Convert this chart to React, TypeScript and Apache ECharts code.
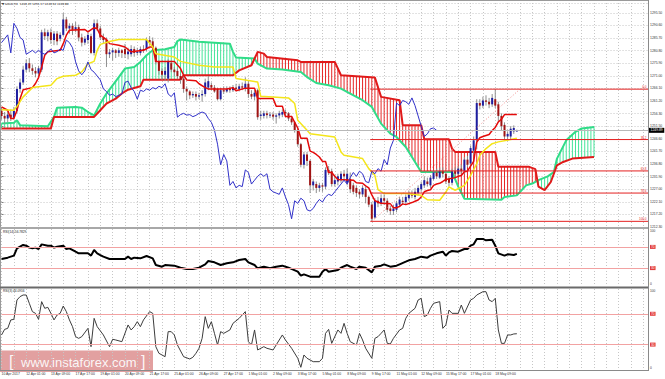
import React, { useEffect, useRef } from 'react';
import * as echarts from 'echarts';

// ---------- DATA ----------
const symbolName = 'GOLD,H4';
const dateLabels = ['10 Apr 2017', '12 Apr 01:00', '13 Apr 09:00', '17 Apr 17:00', '19 Apr 01:00', '20 Apr 09:00', '21 Apr 17:00', '25 Apr 01:00', '26 Apr 09:00', '27 Apr 17:00', '1 May 01:00', '2 May 09:00', '3 May 17:00', '5 May 01:00', '8 May 09:00', '9 May 17:00', '11 May 01:00', '12 May 09:00', '15 May 17:00', '17 May 01:00', '18 May 09:00'];
const priceTickLabels = ['1212.30', '1217.20', '1222.10', '1227.00', '1231.90', '1236.80', '1241.70', '1246.60', '1251.50', '1256.30', '1261.20', '1266.10', '1271.00', '1275.90', '1280.80', '1285.70', '1290.60', '1295.50'];

const opens = [
  1257.5, 1255.5, 1254.5, 1256.0, 1254.8, 1257.5, 1266.0, 1268.5, 1273.5, 1276.0,
  1274.0, 1273.0, 1272.0, 1273.5, 1288.0, 1286.5, 1288.0, 1285.0, 1287.5, 1285.5,
  1287.0, 1293.0, 1289.5, 1290.5, 1289.0, 1290.0, 1286.0, 1284.0, 1285.0, 1286.5,
  1280.0, 1291.5, 1289.5, 1286.0, 1285.0, 1279.5, 1280.2, 1281.0, 1280.0, 1281.0,
  1281.5, 1279.5, 1279.5, 1281.5, 1280.0, 1280.0, 1281.5, 1281.5, 1285.0, 1284.5,
  1282.0, 1276.5, 1273.0, 1271.5, 1270.0, 1276.0, 1273.5, 1273.0, 1271.0, 1270.0,
  1266.0, 1265.0, 1263.5, 1264.0, 1263.0, 1263.5, 1264.0, 1266.5, 1267.5, 1266.5,
  1266.0, 1262.0, 1265.5, 1265.0, 1266.0, 1265.5, 1266.5, 1266.0, 1267.0, 1266.0,
  1268.0, 1264.0, 1263.0, 1265.5, 1255.5, 1255.5, 1256.5, 1255.8, 1256.0, 1255.2,
  1255.7, 1256.0, 1257.0, 1256.5, 1254.5, 1253.0, 1250.0, 1244.5, 1236.5, 1240.5,
  1238.0, 1228.5, 1229.0, 1227.5, 1228.5, 1228.0, 1234.5, 1234.0, 1229.0, 1230.0,
  1230.5, 1233.0, 1229.5, 1231.0, 1228.5, 1227.5, 1226.0, 1225.0, 1227.0, 1224.0,
  1221.0, 1216.0, 1222.5, 1221.5, 1223.5, 1222.5, 1219.5, 1218.5, 1219.0, 1221.0,
  1222.5, 1222.0, 1223.5, 1225.0, 1224.0, 1225.5, 1227.0, 1228.5, 1230.0, 1228.5,
  1231.0, 1233.5, 1231.5, 1234.0, 1233.0, 1231.0, 1229.5, 1234.0, 1233.0, 1235.0,
  1234.0, 1238.5, 1237.0, 1242.0, 1246.0, 1260.5, 1259.5, 1261.5, 1261.0, 1260.0,
  1262.0, 1260.0, 1255.5, 1252.0, 1247.5, 1247.5, 1249.5, 1249.45,
];
const closes = [
  1255.5, 1254.5, 1256.0, 1254.8, 1257.5, 1266.0, 1268.5, 1273.5, 1276.0, 1274.0,
  1273.0, 1272.0, 1274.0, 1288.0, 1286.5, 1288.0, 1285.0, 1287.5, 1284.5, 1287.0,
  1293.0, 1289.5, 1290.5, 1289.0, 1290.0, 1286.0, 1284.0, 1285.5, 1287.0, 1280.0,
  1291.5, 1289.5, 1286.0, 1285.0, 1279.5, 1280.2, 1281.0, 1280.0, 1281.0, 1280.0,
  1279.5, 1280.5, 1281.5, 1280.0, 1280.5, 1281.5, 1281.0, 1285.0, 1284.0, 1282.0,
  1276.5, 1273.0, 1271.5, 1273.0, 1276.5, 1273.5, 1272.5, 1271.0, 1269.5, 1266.0,
  1265.0, 1263.5, 1264.0, 1263.0, 1263.5, 1264.0, 1268.5, 1269.0, 1266.5, 1265.0,
  1262.0, 1265.5, 1265.0, 1266.0, 1265.5, 1266.5, 1266.0, 1267.0, 1266.5, 1268.0,
  1264.0, 1263.0, 1264.5, 1255.0, 1256.0, 1256.5, 1255.8, 1256.0, 1255.2, 1255.7,
  1256.5, 1257.0, 1256.5, 1254.5, 1253.0, 1250.0, 1244.5, 1236.5, 1240.5, 1238.0,
  1228.5, 1230.0, 1227.5, 1228.5, 1228.0, 1234.5, 1233.5, 1229.0, 1230.5, 1232.0,
  1233.0, 1232.0, 1233.0, 1227.0, 1226.0, 1225.5, 1225.0, 1227.5, 1224.0, 1221.0,
  1215.5, 1222.5, 1221.5, 1223.5, 1222.5, 1219.0, 1218.5, 1219.5, 1221.5, 1223.0,
  1222.0, 1224.0, 1225.0, 1224.5, 1226.0, 1227.5, 1229.0, 1230.5, 1229.0, 1231.5,
  1233.5, 1232.0, 1234.0, 1233.0, 1230.0, 1229.5, 1234.0, 1233.0, 1235.0, 1234.0,
  1238.5, 1236.5, 1243.0, 1246.0, 1260.5, 1259.5, 1261.5, 1261.0, 1260.0, 1262.5,
  1259.5, 1255.5, 1251.5, 1247.5, 1248.5, 1250.5, 1250.8, 1249.89,
];
const highs = [
  1259.0, 1257.0, 1257.5, 1258.0, 1259.0, 1267.0, 1270.0, 1275.0, 1277.5, 1278.0,
  1275.5, 1274.5, 1275.0, 1289.0, 1289.5, 1289.0, 1289.5, 1288.5, 1288.5, 1288.0,
  1295.5, 1294.0, 1291.5, 1291.5, 1292.0, 1291.0, 1287.5, 1286.5, 1288.0, 1287.5,
  1293.0, 1293.0, 1290.5, 1287.5, 1286.0, 1281.5, 1282.0, 1281.5, 1282.0, 1281.5,
  1283.5, 1282.0, 1283.0, 1282.5, 1282.0, 1282.5, 1283.0, 1286.0, 1286.5, 1286.0,
  1282.5, 1277.0, 1274.0, 1274.5, 1277.5, 1277.0, 1274.5, 1274.0, 1272.0, 1271.0,
  1267.0, 1265.5, 1265.0, 1265.0, 1264.5, 1265.5, 1270.0, 1271.0, 1268.5, 1267.5,
  1266.5, 1266.5, 1267.0, 1267.0, 1267.0, 1267.5, 1268.0, 1268.0, 1268.5, 1270.5,
  1269.0, 1265.5, 1265.5, 1266.0, 1257.5, 1257.5, 1257.5, 1257.0, 1257.0, 1256.5,
  1257.5, 1258.0, 1258.0, 1257.0, 1255.5, 1253.5, 1250.5, 1245.0, 1241.5, 1241.5,
  1238.5, 1231.0, 1230.0, 1229.5, 1229.5, 1235.5, 1236.0, 1235.0, 1232.5, 1233.0,
  1234.0, 1234.5, 1235.0, 1233.5, 1229.5, 1228.5, 1227.0, 1228.5, 1228.0, 1224.5,
  1222.0, 1223.5, 1224.0, 1225.0, 1225.0, 1223.5, 1220.5, 1221.0, 1222.5, 1224.0,
  1224.0, 1225.0, 1226.5, 1226.5, 1227.5, 1228.5, 1230.0, 1232.0, 1231.5, 1232.5,
  1234.5, 1235.0, 1235.5, 1235.5, 1234.0, 1232.0, 1235.0, 1235.5, 1236.0, 1236.5,
  1239.5, 1240.0, 1244.0, 1247.5, 1262.0, 1262.0, 1263.0, 1263.5, 1262.5, 1264.0,
  1265.9, 1261.0, 1256.5, 1253.0, 1249.5, 1251.5, 1251.8, 1250.17,
];
const lows = [
  1254.0, 1252.5, 1253.0, 1253.5, 1254.0, 1256.5, 1264.5, 1267.5, 1272.5, 1272.5,
  1271.5, 1270.5, 1271.0, 1272.5, 1285.0, 1284.5, 1283.5, 1283.0, 1283.0, 1284.5,
  1286.5, 1288.5, 1287.5, 1287.0, 1288.0, 1284.5, 1282.5, 1283.0, 1283.5, 1279.5,
  1279.0, 1288.5, 1285.0, 1283.5, 1274.5, 1278.0, 1277.0, 1278.0, 1278.5, 1278.0,
  1278.0, 1277.5, 1278.5, 1278.5, 1279.0, 1279.0, 1280.0, 1280.5, 1283.0, 1281.0,
  1275.5, 1271.5, 1269.5, 1269.0, 1268.5, 1272.5, 1271.0, 1270.0, 1268.0, 1264.5,
  1261.5, 1262.0, 1262.5, 1261.5, 1262.0, 1261.0, 1263.0, 1265.5, 1265.5, 1264.5,
  1261.5, 1261.5, 1264.0, 1264.5, 1264.5, 1264.8, 1265.0, 1265.0, 1265.5, 1265.0,
  1262.5, 1262.0, 1261.5, 1254.0, 1254.0, 1254.5, 1254.5, 1254.7, 1254.0, 1252.5,
  1254.5, 1255.0, 1255.5, 1253.5, 1252.0, 1249.0, 1243.5, 1235.5, 1235.0, 1236.0,
  1225.5, 1226.5, 1225.5, 1226.0, 1226.0, 1227.0, 1232.5, 1228.0, 1228.0, 1228.5,
  1229.5, 1230.5, 1228.5, 1225.5, 1225.0, 1224.0, 1223.5, 1224.0, 1221.5, 1220.0,
  1214.5, 1215.5, 1220.0, 1220.5, 1221.0, 1218.0, 1217.0, 1217.0, 1218.0, 1220.0,
  1221.0, 1221.0, 1222.5, 1223.5, 1223.0, 1224.5, 1226.0, 1227.5, 1228.0, 1227.5,
  1230.5, 1231.0, 1231.0, 1231.5, 1229.0, 1228.0, 1228.5, 1232.0, 1232.0, 1233.0,
  1233.0, 1235.5, 1236.0, 1240.5, 1242.5, 1258.0, 1258.5, 1259.5, 1258.5, 1259.0,
  1258.5, 1253.5, 1250.0, 1246.0, 1246.5, 1246.5, 1248.5, 1249.34,
];

// Ichimoku lines as [bar index, price] points
const tenkanPts = [[0, 1259.0], [2, 1257.7], [3, 1254.5], [4, 1254.5], [5, 1257.7], [6, 1262.2], [7, 1265.7], [10, 1266.5], [11, 1268.1], [12, 1270.4], [13, 1274.5], [14, 1279.1], [15, 1280.4], [19, 1281.0], [20, 1283.6], [21, 1286.9], [22, 1288.8], [27, 1289.1], [28, 1288.2], [30, 1289.8], [31, 1289.4], [32, 1286.9], [34, 1285.2], [35, 1283.6], [38, 1283.0], [40, 1282.3], [42, 1280.4], [46, 1281.0], [48, 1282.3], [49, 1282.3], [50, 1276.7], [56, 1276.7], [58, 1273.9], [59, 1271.3], [60, 1269.5], [63, 1269.2], [64, 1268.0], [66, 1266.5], [67, 1266.0], [73, 1266.0], [75, 1266.5], [76, 1265.3], [79, 1266.3], [82, 1266.3], [83, 1262.3], [88, 1262.3], [89, 1259.3], [91, 1259.3], [92, 1255.3], [94, 1255.3], [95, 1253.0], [96, 1250.8], [97, 1246.8], [99, 1246.8], [100, 1241.8], [101, 1241.3], [102, 1240.5], [103, 1239.5], [104, 1237.8], [105, 1237.8], [106, 1233.5], [107, 1233.5], [108, 1232.0], [109, 1230.8], [114, 1230.5], [115, 1229.5], [117, 1229.3], [118, 1228.3], [119, 1227.5], [120, 1224.8], [121, 1222.5], [122, 1222.0], [123, 1221.5], [126, 1221.3], [127, 1219.8], [128, 1219.8], [129, 1220.3], [130, 1221.3], [131, 1221.0], [133, 1221.8], [134, 1222.3], [135, 1222.8], [136, 1224.0], [137, 1226.0], [138, 1226.5], [139, 1226.8], [140, 1228.5], [141, 1229.0], [142, 1229.3], [143, 1230.0], [144, 1230.8], [147, 1231.5], [148, 1232.0], [149, 1232.3], [150, 1233.8], [151, 1234.0], [152, 1236.0], [153, 1237.8], [154, 1245.3], [155, 1247.0], [156, 1247.5], [158, 1248.3], [159, 1249.8], [160, 1251.0], [161, 1253.2], [162, 1254.2], [163, 1256.0], [167, 1256.0]];
const kijunPts = [[0, 1257.9], [4, 1257.7], [5, 1259.2], [7, 1262.9], [10, 1266.5], [16, 1267.4], [18, 1270.0], [20, 1270.9], [24, 1271.3], [26, 1272.6], [28, 1275.8], [30, 1276.7], [31, 1281.0], [32, 1283.3], [35, 1284.4], [38, 1285.2], [47, 1285.2], [49, 1282.3], [50, 1279.7], [56, 1278.4], [58, 1276.7], [64, 1275.2], [69, 1274.5], [75, 1274.5], [76, 1270.0], [83, 1268.7], [84, 1263.1], [93, 1262.5], [95, 1260.3], [96, 1253.8], [99, 1249.9], [100, 1248.6], [108, 1247.3], [110, 1241.5], [111, 1240.2], [117, 1238.9], [119, 1235.0], [121, 1232.4], [122, 1226.8], [124, 1225.3], [131, 1225.3], [136, 1224.6], [138, 1222.9], [142, 1222.7], [144, 1225.9], [145, 1227.9], [147, 1226.6], [150, 1228.5], [152, 1232.4], [154, 1236.9], [155, 1240.2], [157, 1242.8], [159, 1244.7], [161, 1245.4], [165, 1246.3], [167, 1246.8]];
const spanAPts = [[0, 1252.5], [4, 1252.8], [5, 1253.8], [6, 1251.9], [15, 1251.5], [17, 1255.1], [18, 1258.7], [24, 1259.0], [26, 1258.7], [28, 1257.0], [30, 1255.7], [32, 1260.3], [34, 1264.2], [36, 1267.4], [38, 1270.6], [40, 1273.9], [43, 1274.5], [45, 1276.5], [47, 1279.1], [49, 1281.0], [53, 1281.4], [56, 1282.3], [57, 1284.6], [58, 1285.2], [64, 1284.3], [74, 1283.6], [75, 1280.4], [76, 1278.2], [82, 1277.8], [83, 1275.8], [86, 1273.9], [91, 1273.5], [97, 1272.6], [99, 1270.6], [102, 1268.3], [106, 1267.4], [110, 1266.1], [113, 1264.2], [117, 1261.6], [120, 1259.0], [123, 1252.5], [126, 1248.6], [128, 1247.3], [131, 1243.4], [133, 1239.5], [136, 1233.7], [146, 1233.7], [148, 1228.0], [150, 1223.3], [162, 1222.9], [163, 1224.0], [167, 1224.6], [170, 1228.5], [172, 1229.2], [174, 1230.5], [177, 1232.0], [179, 1233.7], [180, 1238.9], [183, 1246.0], [186, 1249.3], [188, 1250.6], [192, 1251.2]];
const spanBPts = [[0, 1250.6], [16, 1250.6], [17, 1255.1], [30, 1255.1], [32, 1257.7], [34, 1260.3], [37, 1262.2], [39, 1264.2], [41, 1265.7], [45, 1267.0], [46, 1269.6], [58, 1269.6], [59, 1271.3], [75, 1271.3], [77, 1273.2], [81, 1275.2], [83, 1280.4], [85, 1279.7], [86, 1278.4], [96, 1277.1], [97, 1276.5], [108, 1276.5], [110, 1271.3], [121, 1270.4], [123, 1262.9], [129, 1261.6], [130, 1251.9], [136, 1251.9], [137, 1246.4], [145, 1246.4], [146, 1242.8], [147, 1241.5], [160, 1241.5], [161, 1235.7], [171, 1235.7], [173, 1234.8], [174, 1228.0], [176, 1226.6], [178, 1229.8], [180, 1236.3], [182, 1237.6], [185, 1238.9], [192, 1239.5]];
const chikouShift = 26;

const rsi14Pts = [[0, 47.2], [2, 49.7], [4, 53.5], [5, 67.3], [7, 73.6], [8, 72.3], [9, 68.6], [10, 67.3], [11, 68.6], [12, 66], [13, 74.8], [15, 72.3], [16, 72.3], [17, 68.6], [18, 70.4], [20, 72.3], [21, 66], [22, 67.3], [24, 61], [25, 57.9], [28, 57.9], [29, 53.5], [30, 64.2], [31, 57.9], [32, 54.7], [33, 51.6], [35, 47.2], [37, 47.2], [40, 47.2], [41, 51.6], [42, 47.2], [43, 49.7], [45, 48.4], [47, 52.8], [49, 48.4], [50, 35.8], [52, 32.7], [53, 35.8], [56, 34.6], [58, 30.8], [60, 28.3], [62, 28.3], [64, 30.8], [66, 37.1], [67, 43.4], [69, 40.9], [71, 35.8], [73, 39], [75, 40.9], [77, 45.3], [79, 47.2], [80, 40.9], [82, 35.8], [83, 29.6], [85, 32.7], [87, 29.6], [89, 32.7], [91, 34.6], [93, 30.8], [96, 23.3], [97, 15.7], [98, 18.2], [100, 13.8], [103, 13.8], [104, 23.3], [105, 28.3], [106, 23.3], [109, 26.4], [110, 30.8], [112, 35.8], [113, 32.7], [115, 28.3], [116, 32.7], [118, 30.8], [120, 22], [121, 32.7], [123, 34.6], [124, 37.1], [126, 32.7], [128, 34.6], [129, 37.1], [131, 42.1], [132, 44.7], [134, 47.2], [136, 51.6], [138, 49.7], [139, 53.5], [141, 57.9], [143, 61], [144, 53.5], [145, 59.7], [146, 62.3], [148, 61], [150, 66], [151, 66], [152, 72.3], [153, 74.8], [154, 85], [156, 85], [157, 82.4], [159, 83.6], [160, 72.3], [161, 57.9], [163, 53.5], [164, 56], [166, 54.7], [167, 56.7829]];
const rsi3Pts = [[0, 42.5], [1, 49.8], [2, 51.1], [3, 62], [4, 62.8], [5, 87.9], [6, 92.3], [7, 94.4], [8, 94.4], [9, 83.6], [10, 72.8], [11, 70.6], [12, 62.8], [13, 85.8], [14, 77.1], [15, 78.4], [16, 70.6], [17, 62], [18, 68.4], [19, 70.6], [20, 80.1], [21, 72.8], [22, 62], [23, 53.3], [24, 40.3], [25, 38.1], [26, 40.3], [28, 51.1], [29, 27.3], [30, 64.1], [31, 53.3], [33, 42.5], [35, 27.3], [36, 36.9], [37, 36], [39, 33.8], [41, 55.5], [42, 49], [43, 53.3], [44, 59.8], [45, 53.3], [46, 62], [48, 72.8], [49, 70.6], [50, 27.3], [51, 18.7], [53, 14.3], [54, 46.8], [55, 46.8], [56, 42.5], [57, 29.5], [59, 14.3], [61, 11.3], [62, 13.5], [63, 18.7], [64, 25.2], [65, 38.1], [66, 66.3], [67, 51.1], [68, 59.8], [69, 44.6], [70, 29.5], [71, 46.8], [72, 44.6], [74, 49], [75, 57.6], [77, 64.1], [79, 72.8], [80, 33.8], [81, 29.5], [82, 49], [83, 23], [85, 27.3], [86, 25.2], [88, 23], [89, 29.5], [91, 42.5], [92, 36], [94, 25.2], [96, 12.2], [97, 0.5], [98, 16.5], [99, 12.2], [101, 7.8], [103, 7.8], [104, 12.2], [105, 44.6], [106, 49.8], [107, 31.6], [109, 49], [110, 44.6], [111, 57.6], [112, 44.6], [113, 33.8], [115, 29.5], [116, 44.6], [117, 36], [118, 25.2], [120, 12.2], [121, 38.1], [122, 40.3], [123, 44.6], [124, 49], [125, 31.6], [126, 30.8], [127, 38.1], [129, 49], [130, 51.1], [131, 64.1], [132, 70.6], [134, 77.1], [135, 87.9], [136, 90.1], [137, 66.3], [138, 68.4], [139, 77.1], [140, 83.6], [142, 85.8], [143, 51.1], [144, 55.5], [145, 74.9], [146, 70.6], [148, 70.6], [149, 81.4], [150, 70.6], [152, 87.9], [153, 90.1], [154, 94.4], [156, 98.7], [157, 98.7], [158, 87.9], [159, 85.8], [160, 90.1], [161, 49], [162, 31.6], [163, 31.6], [164, 42.5], [165, 42.5], [166, 43.8], [167, 44.0916]];
const rsiLevels = [70, 30];

const fibLevelNames = ['0.0', '38.2', '61.8', '78.6', '100.0'];
const fibLevelPrices = [1265.9, 1246.3, 1234.1, 1225.5, 1214.5];
const fibStartIndex = 119.5;
const fibTrend = [[120, 1214.5], [168, 1265.9]];

// ---------- STYLE / LAYOUT ----------
const FONT = 'Liberation Sans, Arial, sans-serif';
const GRID_LEFT = 1.54;
const GRID_W = 646.46;
const X_MAX = 209.5;
const P_MIN = 1212.3;
const P_MAX = 1299.4;
const P_STEP = 4.9;
const CLOUD_UP = '#45e49a';
const CLOUD_DN = '#e62626';
const FIB_RED = '#e42020';
const gridLine = { show: true, lineStyle: { color: '#c6c6c6', width: 1, type: [1, 2] } };

function lineAt(pts: number[][], x: number): number | null {
  if (x < pts[0][0] || x > pts[pts.length - 1][0]) return null;
  for (let k = 1; k < pts.length; k++) {
    const [x0, y0] = pts[k - 1];
    const [x1, y1] = pts[k];
    if (x <= x1) return x1 === x0 ? y1 : y0 + ((y1 - y0) * (x - x0)) / (x1 - x0);
  }
  return null;
}

function xAxisFor(gridIndex: number, labels: boolean) {
  return {
    type: 'value', gridIndex, min: 0, max: X_MAX, interval: 4,
    axisLine: { show: false }, axisTick: { show: false },
    splitLine: gridLine,
    axisLabel: labels
      ? {
          show: true, fontSize: 3.4, color: '#333', align: 'left', margin: 2, hideOverlap: false,
          showMinLabel: true, showMaxLabel: true,
          formatter: (v: number) => (v % 8 === 0 && dateLabels[v / 8] ? dateLabels[v / 8] : ''),
        }
      : { show: false },
  };
}

function lineSeries(name: string, data: number[][], color: string, width: number, axis: number, extra: any = {}) {
  return {
    type: 'line', name, data, xAxisIndex: axis, yAxisIndex: axis, showSymbol: false, symbol: 'none',
    silent: true, lineStyle: { color, width }, itemStyle: { color }, z: 4, ...extra,
  };
}

function rsiMarkLine() {
  return {
    silent: true, symbol: ['none', 'none'],
    lineStyle: { color: '#f2a2a2', width: 1, type: 'solid' },
    label: { show: true, position: 'end', formatter: '{c}', color: '#fff', backgroundColor: '#e23c3c', fontSize: 3.2, padding: [0.5, 1], distance: 2 },
    data: rsiLevels.map((v) => ({ yAxis: v })),
  };
}

function buildOption() {
  const last = closes.length - 1;
  const candleData = opens.map((o, i) => [i, o, closes[i], lows[i], highs[i]]);
  const cloudEnd = spanAPts[spanAPts.length - 1][0];
  const cloudBars: number[][] = [];
  for (let i = 0; i <= cloudEnd; i++) cloudBars.push([i, lineAt(spanAPts, i) as number]);
  const chikou = closes.slice(chikouShift).map((c, j) => [j, c]);

  const fibSeries = fibLevelPrices.map((p, k) =>
    lineSeries('Fib ' + fibLevelNames[k], [[fibStartIndex, p], [X_MAX, p]], FIB_RED, 1, 0, {
      z: 5,
      endLabel: {
        show: true, formatter: fibLevelNames[k], color: FIB_RED, fontSize: 3, align: 'right', verticalAlign: 'bottom',
        distance: 0, offset: [-1.5, -0.8],
      },
    })
  );

  return {
    animation: false,
    backgroundColor: '#ffffff',
    textStyle: { fontFamily: FONT },
    grid: [
      { left: GRID_LEFT, top: 3, width: GRID_W, height: 224, outerBoundsMode: 'none' },
      { left: GRID_LEFT, top: 229, width: GRID_W, height: 57, outerBoundsMode: 'none' },
      { left: GRID_LEFT, top: 289, width: GRID_W, height: 81, outerBoundsMode: 'none' },
    ],
    xAxis: [xAxisFor(0, false), xAxisFor(1, false), xAxisFor(2, true)],
    yAxis: [
      {
        type: 'value', gridIndex: 0, position: 'right', min: P_MIN, max: P_MAX, interval: P_STEP,
        axisLine: { show: false }, axisTick: { show: true, length: 2, lineStyle: { color: '#808080' } },
        splitLine: gridLine,
        axisLabel: {
          fontSize: 3.4, color: '#333', margin: 2, showMinLabel: true, showMaxLabel: true,
          formatter: (v: number) => {
            const k = Math.round((v - P_MIN) / P_STEP);
            return Math.abs(v - (P_MIN + k * P_STEP)) < 0.01 && priceTickLabels[k] ? priceTickLabels[k] : '';
          },
        },
      },
      {
        type: 'value', gridIndex: 1, position: 'right', min: -3.77, max: 103.77, splitNumber: 5,
        axisLine: { show: false }, axisTick: { show: false }, splitLine: { show: false },
        axisLabel: { fontSize: 3.2, color: '#333', margin: 2, formatter: (v: number) => (v === 0 ? '0' : v === 100 ? '100' : '') },
      },
      {
        type: 'value', gridIndex: 2, position: 'right', min: -3, max: 102.2, splitNumber: 5,
        axisLine: { show: false }, axisTick: { show: false }, splitLine: { show: false },
        axisLabel: { fontSize: 3.2, color: '#333', margin: 2, formatter: (v: number) => (v === 0 ? '0' : v === 100 ? '100' : '') },
      },
    ],
    series: [
      {
        type: 'custom', name: 'cloud', xAxisIndex: 0, yAxisIndex: 0, silent: true, z: 1,
        data: cloudBars,
        renderItem: (params: any, api: any) => {
          const i = api.value(0);
          const a = lineAt(spanAPts, i);
          const b = lineAt(spanBPts, i);
          if (a == null || b == null) return { type: 'group', children: [] };
          const pa = api.coord([i, a]);
          const pb = api.coord([i, b]);
          return {
            type: 'line',
            shape: { x1: pa[0], y1: pa[1], x2: pb[0], y2: pb[1] },
            style: { stroke: a >= b ? CLOUD_UP : CLOUD_DN, lineWidth: 1 },
          };
        },
      },
      lineSeries('Senkou A', spanAPts, '#30dc88', 2, 0, { z: 2 }),
      lineSeries('Senkou B', spanBPts, '#e01a1a', 2, 0, { z: 2 }),
      {
        type: 'custom', name: 'price', xAxisIndex: 0, yAxisIndex: 0, silent: true, z: 3,
        encode: { x: 0, y: [1, 2, 3, 4] },
        data: candleData,
        renderItem: (params: any, api: any) => {
          const i = api.value(0);
          const o = api.value(1), c = api.value(2), l = api.value(3), h = api.value(4);
          const pO = api.coord([i, o]);
          const pC = api.coord([i, c]);
          const pL = api.coord([i, l]);
          const pH = api.coord([i, h]);
          const x = pO[0];
          const top = Math.min(pO[1], pC[1]);
          const bh = Math.max(1, Math.abs(pO[1] - pC[1]));
          return {
            type: 'group',
            children: [
              { type: 'line', shape: { x1: x, y1: pH[1], x2: x, y2: pL[1] }, style: { stroke: '#8e8e8e', lineWidth: 1 } },
              { type: 'rect', shape: { x: x - 1, y: top, width: 2, height: bh }, style: { fill: c >= o ? '#1e1ea0' : '#a01414' } },
            ],
          };
        },
      },
      lineSeries('Tenkan', tenkanPts, '#e40a0a', 1.5, 0),
      lineSeries('Kijun', kijunPts, '#f4e51a', 1.5, 0, {
        markLine: {
          silent: true, symbol: ['none', 'none'],
          lineStyle: { color: '#b8b8b8', width: 1, type: 'solid' },
          label: { show: true, position: 'end', formatter: closes[last].toFixed(2), color: '#fff', backgroundColor: '#000', fontSize: 3.4, padding: [1, 1.5], distance: 1 },
          data: [{ yAxis: closes[last] }],
        },
      }),
      lineSeries('Chikou', chikou, '#3030c8', 1, 0),
      lineSeries('Fib trend', fibTrend, '#f08a8a', 1, 0, { lineStyle: { color: '#f08a8a', width: 1, type: [1, 2] } }),
      ...fibSeries,
      lineSeries('RSI14', rsi14Pts, '#000000', 2, 1, { markLine: rsiMarkLine() }),
      lineSeries('RSI3', rsi3Pts, '#3c3c3c', 1, 2, { markLine: rsiMarkLine() }),
    ],
    graphic: [
      { type: 'line', z: 100, silent: true, shape: { x1: 0, y1: 0.5, x2: 648, y2: 0.5 }, style: { stroke: '#9a9a9a', lineWidth: 1 } },
      { type: 'line', z: 100, silent: true, shape: { x1: 0.5, y1: 0, x2: 0.5, y2: 371 }, style: { stroke: '#9a9a9a', lineWidth: 1 } },
      { type: 'line', z: 100, silent: true, shape: { x1: 648.5, y1: 0, x2: 648.5, y2: 371 }, style: { stroke: '#8a8a8a', lineWidth: 1 } },
      { type: 'line', z: 100, silent: true, shape: { x1: 0, y1: 228, x2: 648, y2: 228 }, style: { stroke: '#a8a8a8', lineWidth: 2 } },
      { type: 'line', z: 100, silent: true, shape: { x1: 0, y1: 287.5, x2: 648, y2: 287.5 }, style: { stroke: '#6a6a6a', lineWidth: 2 } },
      { type: 'line', z: 100, silent: true, shape: { x1: 0, y1: 370.5, x2: 648, y2: 370.5 }, style: { stroke: '#8a8a8a', lineWidth: 1 } },
      {
        type: 'text', z: 101, silent: true, x: 2, y: 2,
        style: {
          text: `\u25BC ${symbolName}  ${opens[last].toFixed(2)} ${highs[last].toFixed(2)} ${lows[last].toFixed(2)} ${closes[last].toFixed(2)}`,
          fontSize: 2.8, fill: '#222', fontFamily: 'DejaVu Sans, sans-serif',
        },
      },
      {
        type: 'text', z: 101, silent: true, x: 3, y: 230.5,
        style: { text: `RSI(14) ${rsi14Pts[rsi14Pts.length - 1][1].toFixed(4)}`, fontSize: 3.2, fill: '#222', fontFamily: FONT },
      },
      {
        type: 'text', z: 101, silent: true, x: 3, y: 289.5,
        style: { text: `RSI(3) ${rsi3Pts[rsi3Pts.length - 1][1].toFixed(4)}`, fontSize: 3.2, fill: '#222', fontFamily: FONT },
      },
      {
        type: 'group', z: 110, silent: true,
        children: [
          { type: 'rect', shape: { x: 0, y: 350.5, width: 153, height: 21.5 }, style: { fill: 'rgba(206,96,96,0.6)' } },
          { type: 'text', x: 9, y: 361.5, style: { text: '[', fontSize: 16, fill: '#ffffff', fontFamily: FONT, verticalAlign: 'middle', opacity: 0.92 } },
          { type: 'text', x: 21, y: 362, style: { text: 'www.instaforex.com', fontSize: 13, fill: '#ffffff', fontFamily: FONT, verticalAlign: 'middle', opacity: 0.92 } },
          { type: 'text', x: 141, y: 361.5, style: { text: ']', fontSize: 16, fill: '#ffffff', fontFamily: FONT, verticalAlign: 'middle', opacity: 0.92 } },
        ],
      },
    ],
  };
}

export default function App() {
  const ref = useRef<HTMLDivElement>(null);
  useEffect(() => {
    if (!ref.current) return;
    const chart = echarts.init(ref.current, null, { renderer: 'svg' });
    chart.setOption(buildOption() as any);
    return () => chart.dispose();
  }, []);
  return <div ref={ref} style={{ position: 'fixed', left: 0, top: 0, width: 665, height: 379 }} />;
}
